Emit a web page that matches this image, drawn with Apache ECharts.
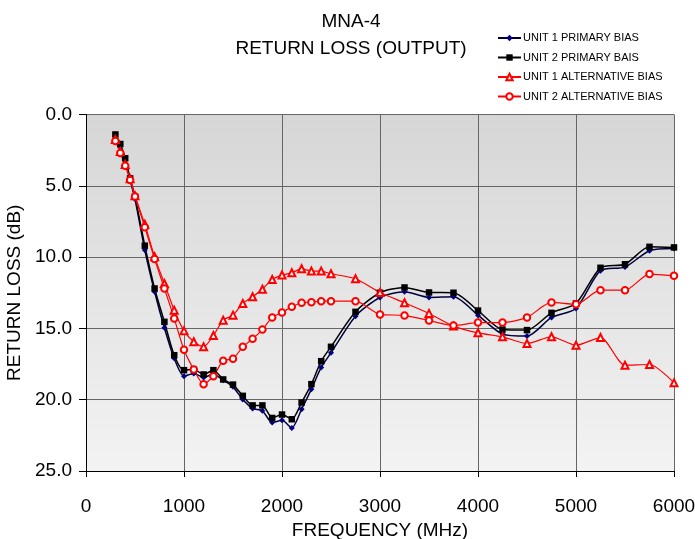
<!DOCTYPE html>
<html>
<head>
<meta charset="utf-8">
<script src="https://cdn.jsdelivr.net/npm/echarts@6/dist/echarts.min.js"></script>
<style>html,body{margin:0;padding:0;background:#fff;}#c{width:695px;height:539px;}</style>
</head>
<body>
<div id="c"></div>
<script>
var freq = [300,350,400,450,500,600,700,800,900,1000,1100,1200,1300,1400,1500,1600,1700,1800,1900,2000,2100,2200,2300,2400,2500,2750,3000,3250,3500,3750,4000,4250,4500,4750,5000,5250,5500,5750,6000];
var unit1Primary = [1.5,2.2,3.2,4.6,5.93,9.5,12.43,14.96,17.1,18.35,18.16,18.44,18.21,18.63,19.1,19.99,20.62,20.78,21.6,21.44,21.98,20.67,19.26,17.74,16.71,14.14,12.83,12.43,12.83,12.78,14.07,15.4,15.54,14.23,13.6,10.95,10.7,9.55,9.4];
var unit2Primary = [1.4,2.07,3.07,4.48,5.77,9.2,12.2,14.54,16.88,17.93,17.88,18.23,17.93,18.58,18.94,19.73,20.4,20.4,21.28,21.04,21.37,20.2,18.91,17.3,16.29,13.84,12.5,12.13,12.48,12.5,13.75,15.08,15.12,13.91,13.25,10.75,10.5,9.28,9.32];
var unit1Alt = [1.75,2.6,3.5,4.5,5.7,7.7,9.98,11.85,13.72,15.17,15.94,16.29,15.5,14.42,14.07,13.25,12.78,12.25,11.57,11.26,11.1,10.82,10.98,10.98,11.17,11.52,12.48,13.2,13.95,14.84,15.31,15.59,16.06,15.59,16.18,15.64,17.58,17.53,18.82];
var unit2Alt = [1.85,2.7,3.6,4.6,5.75,7.9,10.14,12.2,14.3,16.5,17.88,18.91,18.35,17.27,17.13,16.29,15.73,15.08,14.23,13.88,13.49,13.2,13.16,13.09,13.09,13.09,14.02,14.09,14.45,14.8,14.59,14.59,14.23,13.18,13.3,12.32,12.32,11.19,11.31];
var seriesNames = ['UNIT 1 PRIMARY BIAS','UNIT 2 PRIMARY BAIS','UNIT 1 ALTERNATIVE BIAS','UNIT 2 ALTERNATIVE BIAS'];
var titleLines = ['MNA-4','RETURN LOSS (OUTPUT)'];

function pairs(vals){ return freq.map(function(f,i){ return [f, vals[i]]; }); }
var FONT = 'Liberation Sans, Arial, sans-serif';

var chart = echarts.init(document.getElementById('c'), null, {renderer:'canvas'});
chart.setOption({
  animation:false,
  title:{text:titleLines.join('\n'), left:346, textAlign:'center', top:3,
    textStyle:{fontFamily:FONT, fontSize:19, fontWeight:'normal', color:'#000', lineHeight:27}},
  legend:{orient:'vertical', left:497, top:31, padding:0, itemWidth:23, itemHeight:8, itemGap:5.5,
    textStyle:{fontFamily:FONT, fontSize:11, color:'#000', lineHeight:14, padding:[0,0,0,-3]},
    data:seriesNames},
  grid:{left:86, right:21, top:114.5, bottom:68, show:true, borderWidth:0, containLabel:false, outerBoundsMode:'none',
    backgroundColor:{type:'linear',x:0,y:0,x2:0,y2:1,colorStops:[{offset:0,color:'#d6d6d6'},{offset:1,color:'#f3f3f3'}]}},
  xAxis:{type:'value', min:0, max:6000, interval:1000,
    name:'FREQUENCY (MHz)', nameLocation:'middle', nameGap:48,
    nameTextStyle:{fontFamily:FONT, fontSize:19, color:'#000'},
    axisLine:{show:true, onZero:false, lineStyle:{color:'#000', width:1}},
    axisTick:{show:true, inside:false, length:6, lineStyle:{color:'#000'}},
    axisLabel:{fontFamily:FONT, fontSize:19, color:'#000', margin:26, formatter:function(v){return String(v);}},
    splitLine:{show:true, lineStyle:{color:'#666', width:1}}},
  yAxis:{type:'value', inverse:true, min:0, max:25, interval:5,
    name:'RETURN LOSS (dB)', nameLocation:'middle', nameGap:55,
    nameTextStyle:{fontFamily:FONT, fontSize:19, color:'#000'},
    axisLine:{show:true, onZero:false, lineStyle:{color:'#000', width:1}},
    axisTick:{show:true, inside:false, length:7, lineStyle:{color:'#000'}},
    axisLabel:{fontFamily:FONT, fontSize:19, color:'#000', margin:14, formatter:function(v){return v.toFixed(1);}},
    splitLine:{show:true, lineStyle:{color:'#666', width:1}}},
  series:[
    {name:seriesNames[0], type:'line', data:pairs(unit1Primary), smooth:0.25,
      symbol:'diamond', symbolSize:6, lineStyle:{color:'#000040', width:1.5},
      itemStyle:{color:'#000080', borderWidth:0}},
    {name:seriesNames[1], type:'line', data:pairs(unit2Primary), smooth:0.25,
      symbol:'rect', symbolSize:6.5, lineStyle:{color:'#000', width:1.5},
      itemStyle:{color:'#000', borderWidth:0}},
    {name:seriesNames[2], type:'line', data:pairs(unit1Alt), smooth:0.25,
      symbol:'emptyTriangle', symbolSize:7, lineStyle:{color:'#ff0000', width:1.2},
      itemStyle:{color:'#ff0000', borderColor:'#ff0000', borderWidth:1.1}},
    {name:seriesNames[3], type:'line', data:pairs(unit2Alt), smooth:0.25,
      symbol:'emptyCircle', symbolSize:6.5, lineStyle:{color:'#ff0000', width:1.2},
      itemStyle:{color:'#ff0000', borderColor:'#ff0000', borderWidth:1.1}}
  ]
});
</script>
</body>
</html>
